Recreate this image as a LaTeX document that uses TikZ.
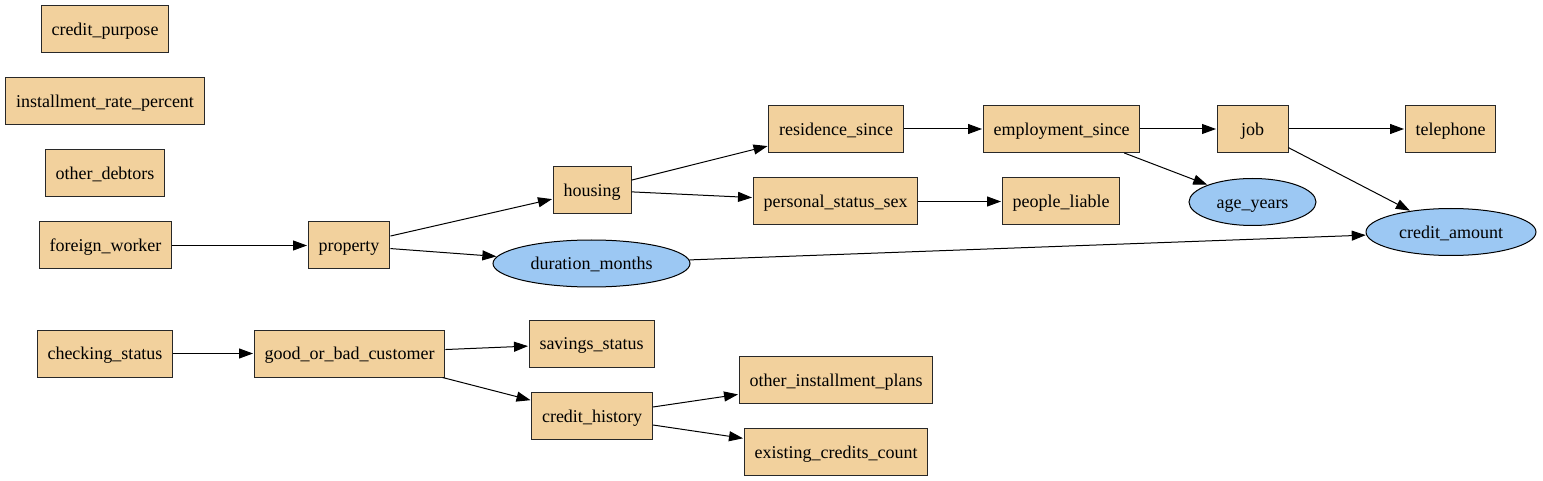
\documentclass[tikz,border=0pt]{standalone}
\usepackage{fontspec}
\newfontfamily\gvfont{Liberation Serif}
\usetikzlibrary{arrows.meta,shapes.geometric}
\definecolor{boxfill}{RGB}{242,209,157}
\definecolor{ellfill}{RGB}{156,200,243}
\definecolor{boxline}{RGB}{40,40,40}
\tikzset{
  box/.style={draw=boxline, line width=1pt, fill=boxfill, rectangle, inner xsep=10.5pt, inner ysep=0pt, minimum height=47pt, minimum width=71pt, text height=16pt, text depth=3.6pt, font=\gvfont\fontsize{18}{22}\selectfont},
  ell/.style={draw=black, line width=1pt, fill=ellfill, ellipse, inner sep=0pt, minimum height=47pt, text height=16pt, text depth=3.6pt, font=\gvfont\fontsize{18}{22}\selectfont},
  edge/.style={draw=black, line width=1pt, -{Triangle[length=14pt,width=10pt]}, shorten >=0.5pt}
}
\begin{document}
\begin{tikzpicture}[x=1pt,y=-1pt]
\useasboundingbox (0,0) rectangle (1543,481);
\node[box] (cp) at (105,29.5) {credit\_purpose};
\node[box] (irp) at (105,101) {installment\_rate\_percent};
\node[box] (od) at (105,173.5) {other\_debtors};
\node[box] (fw) at (105.5,245.5) {foreign\_worker};
\node[box] (prop) at (349,245.5) {property};
\node[box] (hous) at (592,190) {housing};
\node[box] (res) at (836,129) {residence\_since};
\node[box] (emp) at (1061.5,129) {employment\_since};
\node[box] (job) at (1252.5,129) {job};
\node[box] (tel) at (1450.5,129) {telephone};
\node[box] (pss) at (835.5,201.5) {personal\_status\_sex};
\node[box] (pl) at (1061,201.5) {people\_liable};
\node[ell, minimum width=127pt] (age) at (1252.5,202) {age\_years};
\node[ell, minimum width=170pt] (ca) at (1451,232) {credit\_amount};
\node[ell, minimum width=197pt] (dur) at (591.5,263.5) {duration\_months};
\node[box] (cs) at (105,353.5) {checking\_status};
\node[box] (gbc) at (349.5,353.5) {good\_or\_bad\_customer};
\node[box] (ss) at (591.5,343.5) {savings\_status};
\node[box] (ch) at (592,416) {credit\_history};
\node[box] (oip) at (836,380) {other\_installment\_plans};
\node[box] (ecc) at (836,452) {existing\_credits\_count};

\draw[edge] (fw) -- (prop);
\draw[edge] (prop) -- (hous);
\draw[edge] (prop) -- (dur);
\draw[edge] (hous) -- (res);
\draw[edge] (hous) -- (pss);
\draw[edge] (res) -- (emp);
\draw[edge] (emp) -- (job);
\draw[edge] (emp) -- (age);
\draw[edge] (job) -- (tel);
\draw[edge] (job) -- (ca);
\draw[edge] (pss) -- (pl);
\draw[edge] (dur) -- (ca);
\draw[edge] (cs) -- (gbc);
\draw[edge] (gbc) -- (ss);
\draw[edge] (gbc) -- (ch);
\draw[edge] (ch) -- (oip);
\draw[edge] (ch) -- (ecc);
\end{tikzpicture}
\end{document}
